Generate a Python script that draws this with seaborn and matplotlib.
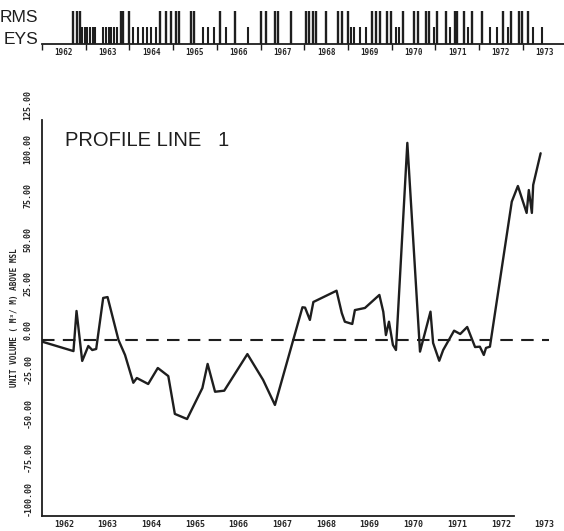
#!/usr/bin/env python3

# Import libraries
import numpy as np
import pandas as pd
import matplotlib as mpl
mpl.use("Agg")
import matplotlib.pyplot as plt
import seaborn as sns


# Profile line 1 : unit volume above MSL
years = [1962.01, 1962.72, 1962.79, 1962.92, 1963.06, 1963.15, 1963.24, 1963.40,
         1963.50, 1963.75, 1963.90, 1964.09, 1964.17, 1964.43, 1964.65, 1964.89,
         1965.04, 1965.32, 1965.67, 1965.79, 1965.96, 1966.17, 1966.70, 1967.06,
         1967.33, 1967.96, 1968.02, 1968.13, 1968.21, 1968.74, 1968.86, 1968.93,
         1969.10, 1969.16, 1969.39, 1969.72, 1969.81, 1969.87, 1969.94, 1970.03,
         1970.10, 1970.36, 1970.65, 1970.89, 1970.95, 1971.09, 1971.18, 1971.43,
         1971.57, 1971.73, 1971.91, 1972.02, 1972.11, 1972.16, 1972.25, 1972.75,
         1972.89, 1973.09, 1973.14, 1973.21, 1973.24, 1973.41]
volume = [-1.0, -6.3, 16.5, -11.9, -3.4, -5.7, -5.1, 23.9,
          24.4, 0.0, -8.5, -24.3, -21.6, -25.0, -15.9, -20.5,
          -42.0, -44.9, -27.3, -13.6, -29.4, -28.8, -8.0, -22.7,
          -36.9, 18.6, 18.4, 11.4, 21.6, 28.0, 15.3, 10.4,
          9.1, 17.0, 18.2, 25.6, 16.0, 2.8, 10.4, -2.8,
          -5.7, 112.0, -6.6, 16.1, -1.7, -11.8, -5.7, 5.3,
          3.4, 7.4, -4.0, -3.8, -8.5, -4.5, -3.8, 78.6,
          87.5, 72.2, 85.2, 72.2, 88.1, 106.1]

# Storm / survey strip at the top
storm_dates = [1962.70, 1962.79, 1962.87, 1963.80, 1963.86, 1963.98, 1964.69, 1964.83,
               1964.96, 1965.06, 1965.14, 1965.40, 1965.47, 1966.07, 1966.42, 1967.00,
               1967.12, 1967.33, 1967.41, 1967.70, 1968.03, 1968.12, 1968.20, 1968.28,
               1968.49, 1968.78, 1968.86, 1969.01, 1969.56, 1969.64, 1969.73, 1969.89,
               1969.98, 1970.26, 1970.51, 1970.60, 1970.78, 1970.86, 1971.05, 1971.24,
               1971.44, 1971.50, 1971.65, 1971.85, 1972.08, 1972.54, 1972.74, 1972.91,
               1972.99, 1973.11]
survey_dates = [1962.91, 1962.98, 1963.03, 1963.09, 1963.16, 1963.22, 1963.40, 1963.47,
                1963.53, 1963.59, 1963.65, 1963.72, 1964.08, 1964.19, 1964.30, 1964.40,
                1964.50, 1964.60, 1965.68, 1965.80, 1965.93, 1966.21, 1966.71, 1969.07,
                1969.15, 1969.27, 1969.42, 1970.10, 1970.18, 1970.97, 1971.34, 1971.75,
                1972.25, 1972.41, 1972.66, 1973.24, 1973.45]

year_labels = [str(y) for y in range(1962, 1974)]
ytick_values = [-100, -75, -50, -25, 0, 25, 50, 75, 100, 125]

INK = "#1e1e1e"
MONO = {"family": "DejaVu Sans Mono", "weight": "bold"}


def plot():
    sns.set_style("white")
    plt.rcParams["font.family"] = ["Liberation Sans", "DejaVu Sans"]

    df = pd.DataFrame({"year": years, "volume": volume})

    fig = plt.figure(figsize=(5.64, 5.31), dpi=100)
    px = 43.7  # pixels per year in the original
    ax = fig.add_axes([42 / 564, 15 / 531, 507 / 564, 396 / 531])
    strip = fig.add_axes([42 / 564, 487 / 531, 522 / 564, 34 / 531])

    # Main profile
    sns.lineplot(x="year", y="volume", data=df, color=INK, lw=1.7, ax=ax)
    ax.axhline(0, color=INK, lw=1.5, dashes=(6, 4), xmax=1.0)
    ax.set_xlim(1962, 1962 + 507 / px)
    ax.set_ylim(-100, 125)

    ax.set_yticks(ytick_values)
    ax.set_yticklabels(["{:.2f}".format(v) for v in ytick_values],
                       rotation=90, va="bottom", fontdict=MONO, fontsize=6)
    ax.set_xticks(range(1962, 1973))
    ax.set_xticklabels([])
    ax.set_xticks([y + 0.5 for y in range(1962, 1974)], minor=True)
    ax.set_xticklabels(year_labels, minor=True, fontdict=MONO, fontsize=6)
    ax.tick_params(axis="both", which="major", direction="in", length=3,
                   width=1, color=INK)
    ax.tick_params(axis="y", pad=7)
    ax.tick_params(axis="x", which="minor", length=0, pad=3)

    for side in ["top", "right"]:
        ax.spines[side].set_visible(False)
    for side in ["left", "bottom"]:
        ax.spines[side].set_color(INK)
        ax.spines[side].set_linewidth(1.3)
    ax.spines["bottom"].set_bounds(1962, 1972.8)

    ax.set_xlabel("")
    ax.set_ylabel("UNIT VOLUME ( M³/ M) ABOVE MSL", fontdict=MONO, fontsize=5.5,
                  labelpad=3)
    ax.text(0.045, 0.947, "PROFILE LINE   1", transform=ax.transAxes,
            fontsize=14.5, color=INK, va="center", ha="left")

    # Storm / survey strip
    strip.vlines(storm_dates, 0, 0.97, color=INK, lw=1.7)
    strip.vlines(survey_dates, 0, 0.5, color=INK, lw=1.5)
    strip.set_xlim(1962, 1962 + 522 / px)
    strip.set_ylim(0, 1)
    strip.set_yticks([])
    strip.set_xticks(range(1962, 1974))
    strip.set_xticklabels([])
    strip.set_xticks([y + 0.5 for y in range(1962, 1974)], minor=True)
    strip.set_xticklabels(year_labels, minor=True, fontdict=MONO, fontsize=5.5)
    strip.tick_params(axis="x", which="major", direction="out", length=4,
                      width=1, color=INK, bottom=True)
    strip.tick_params(axis="x", which="minor", length=0, pad=3)
    for side in ["top", "right", "left"]:
        strip.spines[side].set_visible(False)
    strip.spines["bottom"].set_color(INK)
    strip.spines["bottom"].set_linewidth(1.3)
    strip.patch.set_alpha(0)

    fig.text(38 / 564, 1 - 18 / 531, "RMS", ha="right", va="center",
             fontsize=12.5, color=INK)
    fig.text(38 / 564, 1 - 39 / 531, "EYS", ha="right", va="center",
             fontsize=12.5, color=INK)
    return fig


def main():
    fig = plot()
    fig.savefig("out.png", dpi=100)


if __name__ == '__main__':
    main()
